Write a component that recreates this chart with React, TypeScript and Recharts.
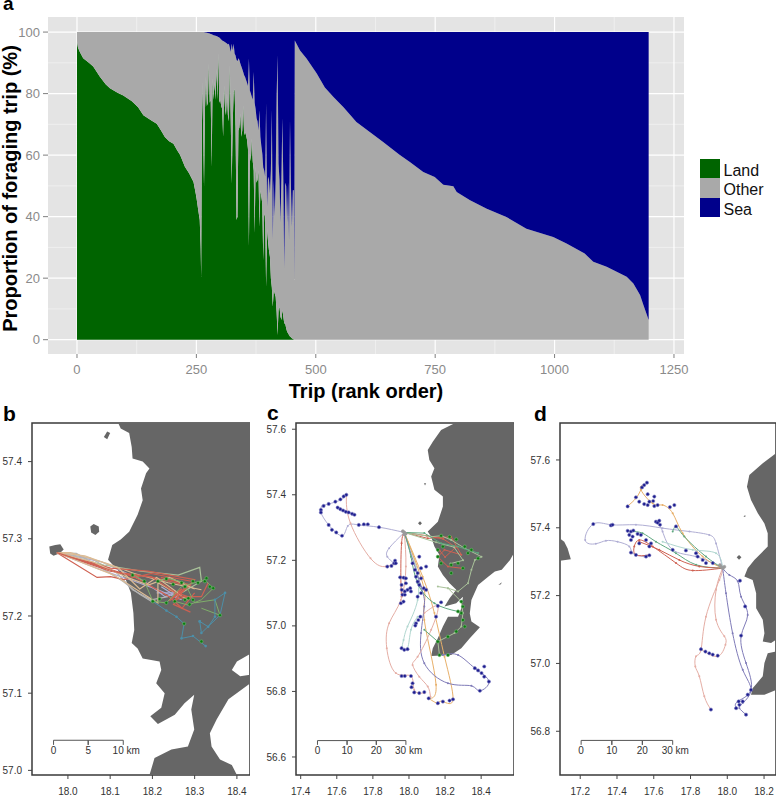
import {
  Area,
  CartesianGrid,
  ComposedChart,
  Legend,
  Polygon,
  ReferenceArea,
  Scatter,
  ScatterChart,
  XAxis,
  YAxis,
} from "recharts";

const FONT = "'Liberation Sans', Arial, sans-serif";

// panel a, foraging trips in rank order
const earlyRanks = [0, 2, 6, 13, 25, 34, 48, 60, 69, 85, 97, 115, 128, 139, 155, 167, 176, 184, 193, 202, 210, 216, 226, 235, 244, 250, 254, 257, 259, 260];
const earlyLand = [97, 95, 93.5, 91.5, 90, 88.8, 85.5, 83, 81.7, 80.3, 79.4, 77.5, 75.6, 73, 71.3, 70.2, 68, 65.9, 64.5, 63.7, 61.5, 60, 56.2, 54, 51.3, 46.4, 42, 39, 30, 20.4];

const spikeRanks = [
  262, 264, 266, 268, 270, 272, 274, 276, 278, 280,
  282, 284, 286, 288, 290, 292, 294, 296, 298, 300,
  302, 304, 306, 308, 310, 312, 314, 316, 318, 320,
  322, 324, 326, 328, 330, 332, 334, 336, 338, 340,
  342, 344, 346, 348, 350, 352, 354, 356, 358, 360,
  362, 364, 366, 368, 370, 372, 374, 376, 378, 380,
  382, 384, 386, 388, 390, 392, 394, 396, 398, 400,
  402, 404, 406, 408, 410, 412, 414, 416, 418, 420,
  422, 424, 426, 428, 430, 432, 434, 436, 438, 440,
  442, 444, 446, 448, 450, 452, 454, 455, 456,
];
const spikeLand = [
  83.8, 70, 49.7, 75, 85.4, 76, 77, 89.7, 77, 78,
  56.2, 84.9, 78, 83.8, 78, 88.1, 78, 93, 77, 78,
  76, 75, 65.9, 82.7, 75, 73, 80, 73, 71, 89.2,
  71, 50.8, 70, 80.5, 81.6, 69, 38.9, 40, 68, 69,
  73.5, 66, 68, 76.2, 66.5, 67.6, 66.5, 65, 62, 30.2,
  60.5, 58, 65.4, 58, 55, 34.5, 56.2, 51, 52, 55,
  36.7, 48.6, 46.5, 44.3, 25.9, 41, 40, 17.2, 36, 32,
  29, 27, 20, 17, 10.7, 16.2, 15, 14, 9, 1.5,
  9.7, 10.7, 7.5, 6.4, 9.7, 7.5, 5.3, 5.3, 3.7, 2.6,
  2.1, 1.5, 1, 0.8, 0.5, 0.3, 0.1, 0, 0,
];
const spikeSea = [
  0, 0, 0, 0.1, 0.1, 0.2, 0.3, 0.4, 0.5, 0.6,
  0.7, 0.9, 1, 1.1, 1.2, 1.3, 1.4, 1.6, 1.8, 2.1,
  2.4, 2.7, 2.9, 3.1, 3.3, 3.5, 3.7, 4, 3.8, 5,
  6.5, 3.8, 6, 3.8, 7, 7.6, 9, 9.5, 8.5, 9.1,
  10.2, 11.1, 12, 13, 14, 14.6, 15.6, 16.5, 17.5, 8.6,
  19, 20, 21, 22, 13, 23, 25, 28, 29, 32,
  25.4, 34, 37, 39.5, 44, 45, 47, 23.2, 56.8, 47,
  48, 52.5, 45, 25.4, 67.6, 48, 60, 48, 21, 7.6,
  42.7, 48, 62, 48, 28, 48, 76.8, 49, 50, 62,
  49, 67.6, 28.7, 50, 63.3, 51.4, 51.4, 80.6, 2.7,
];

const lateRanks = [467, 481, 502, 519, 537, 558, 585, 613, 641, 676, 697, 725, 749, 767, 788, 795, 823, 858, 899, 941, 997, 1025, 1063, 1081, 1109, 1151, 1165, 1179, 1186, 1197];
const lateSea = [6, 8.7, 13.5, 18, 21.1, 24.4, 29.2, 32.5, 35.7, 40, 42.2, 45.5, 47.1, 49.6, 50.1, 52, 54.7, 57.4, 60.1, 63.9, 66.6, 68.7, 72, 74.7, 76.3, 79.5, 81.7, 85.5, 88.7, 93.6];

const tripTicks = [0, 250, 500, 750, 1000, 1250];
const tripMinor = [125, 375, 625, 875, 1125];
const pctTicks = [0, 20, 40, 60, 80, 100];
const pctMinor = [10, 30, 50, 70, 90];

const allRanks = [...earlyRanks, ...spikeRanks, ...lateRanks];
const allLand = [...earlyLand, ...spikeLand, ...lateRanks.map(() => 0)];
const allSea = [...earlyRanks.map(() => 0), ...spikeSea, ...lateSea];
const tripRows = allRanks.map((trip, i) => ({
  trip,
  land: allLand[i],
  other: Math.max(0, 100 - allLand[i] - allSea[i]),
  sea: allSea[i],
}));

type LL = [number, number];

// panel b, coast and tracks (lon, lat)
const bCoast: LL[] = [
  [18.119, 57.45], [18.125, 57.443], [18.145, 57.437], [18.151, 57.419], [18.153, 57.404], [18.177, 57.4], [18.193, 57.391], [18.185, 57.385],
  [18.173, 57.365], [18.177, 57.35], [18.165, 57.331], [18.145, 57.309], [18.125, 57.299], [18.105, 57.292], [18.095, 57.273], [18.117, 57.26],
  [18.137, 57.247], [18.149, 57.23], [18.155, 57.204], [18.157, 57.182], [18.151, 57.165], [18.165, 57.158], [18.177, 57.145], [18.217, 57.141],
  [18.221, 57.13], [18.209, 57.113], [18.229, 57.1], [18.221, 57.081], [18.195, 57.07], [18.213, 57.06], [18.253, 57.072], [18.276, 57.087],
  [18.299, 57.098], [18.292, 57.079], [18.299, 57.053], [18.284, 57.031], [18.245, 57.027], [18.205, 57.016], [18.197, 57.001], [18.193, 56.994],
  [18.4, 56.994], [18.388, 57.007], [18.36, 57.014], [18.34, 57.031], [18.336, 57.048], [18.352, 57.066], [18.38, 57.092], [18.432, 57.113],
  [18.432, 57.124], [18.408, 57.122], [18.388, 57.13], [18.4, 57.141], [18.432, 57.151], [18.432, 57.45],
];
const bNorthIsle: LL[] = [[18.085, 57.432], [18.093, 57.439], [18.1, 57.437], [18.093, 57.429]];
const bMidIsle: LL[] = [[18.053, 57.316], [18.061, 57.319], [18.073, 57.316], [18.074, 57.309], [18.065, 57.305], [18.055, 57.308]];
const bColonyIsle: LL[] = [[17.956, 57.29], [17.97, 57.292], [17.982, 57.293], [17.99, 57.286], [17.98, 57.281], [17.966, 57.278], [17.958, 57.281]];

const bRed1: LL[] = [[17.974, 57.282], [18.069, 57.25], [18.101, 57.251], [18.133, 57.247], [18.197, 57.255], [18.292, 57.245]];
const bTan1: LL[] = [[17.974, 57.282], [18.006, 57.282], [18.093, 57.268], [18.157, 57.255], [18.237, 57.243], [18.316, 57.234]];
const bGray: LL[] = [[17.974, 57.282], [18.053, 57.275], [18.117, 57.255], [18.153, 57.234], [18.197, 57.221], [18.237, 57.225]];
const bSage: LL[] = [[17.974, 57.282], [18.085, 57.266], [18.173, 57.258], [18.261, 57.253], [18.312, 57.263], [18.316, 57.245], [18.253, 57.225]];
const bLilac: LL[] = [[17.974, 57.282], [18.077, 57.26], [18.157, 57.245], [18.213, 57.234], [18.269, 57.221], [18.221, 57.238]];
const bRed2: LL[] = [[17.974, 57.282], [18.101, 57.262], [18.189, 57.258], [18.3, 57.247], [18.253, 57.221], [18.284, 57.225], [18.237, 57.234]];
const bTan2: LL[] = [[17.974, 57.282], [18.109, 57.253], [18.189, 57.225], [18.213, 57.217], [18.213, 57.243], [18.284, 57.221]];
const bRed3: LL[] = [[17.974, 57.282], [18.125, 57.255], [18.197, 57.251], [18.269, 57.225], [18.316, 57.225], [18.332, 57.243]];
const bRed4: LL[] = [[17.974, 57.282], [18.09, 57.262], [18.16, 57.25], [18.24, 57.225], [18.27, 57.21], [18.3, 57.23]];
const bRed5: LL[] = [[17.974, 57.282], [18.1, 57.258], [18.2, 57.25], [18.28, 57.24], [18.25, 57.215], [18.29, 57.205]];
const bRed6: LL[] = [[18.22, 57.25], [18.29, 57.24], [18.24, 57.22], [18.27, 57.235], [18.25, 57.228]];
const bTan3: LL[] = [[17.974, 57.282], [18.04, 57.278], [18.12, 57.262], [18.17, 57.235], [18.21, 57.25], [18.26, 57.23]];
const bTan4: LL[] = [[17.974, 57.282], [18.06, 57.27], [18.14, 57.25], [18.19, 57.24], [18.24, 57.25], [18.3, 57.235]];
const bLilac2: LL[] = [[17.974, 57.282], [18.08, 57.27], [18.18, 57.245], [18.23, 57.225], [18.26, 57.23], [18.21, 57.23]];
const bGray2: LL[] = [[17.974, 57.282], [18.02, 57.281], [18.08, 57.262], [18.13, 57.245], [18.17, 57.228], [18.2, 57.218]];
const bGreen1: LL[] = [[18.157, 57.253], [18.181, 57.245], [18.201, 57.219], [18.233, 57.217], [18.269, 57.238], [18.324, 57.247], [18.344, 57.236], [18.316, 57.221], [18.285, 57.214], [18.253, 57.219]];
const bGreen2: LL[] = [[18.213, 57.245], [18.237, 57.249], [18.276, 57.243], [18.3, 57.217], [18.348, 57.221], [18.36, 57.201], [18.316, 57.21]];
const bTeal1: LL[] = [[18.201, 57.219], [18.233, 57.207], [18.257, 57.199], [18.275, 57.19], [18.269, 57.171], [18.296, 57.174], [18.326, 57.161]];
const bTeal2: LL[] = [[18.312, 57.193], [18.332, 57.186], [18.348, 57.199], [18.348, 57.221], [18.372, 57.23], [18.36, 57.201], [18.316, 57.178], [18.312, 57.193]];

const bGreenDots: LL[] = [
  [18.153, 57.253], [18.181, 57.245], [18.201, 57.219], [18.217, 57.222], [18.233, 57.217], [18.213, 57.245], [18.233, 57.248], [18.249, 57.241],
  [18.269, 57.243], [18.277, 57.238], [18.296, 57.245], [18.308, 57.243], [18.324, 57.245], [18.328, 57.249], [18.336, 57.238], [18.344, 57.236],
  [18.277, 57.221], [18.285, 57.223], [18.288, 57.215], [18.296, 57.221], [18.36, 57.201], [18.253, 57.219], [18.275, 57.19], [18.316, 57.167],
];

// panel c
const cCoast: LL[] = [
  [18.253, 57.618], [18.178, 57.598], [18.132, 57.562], [18.104, 57.537], [18.113, 57.506], [18.141, 57.481], [18.123, 57.456], [18.141, 57.415],
  [18.188, 57.395], [18.188, 57.364], [18.16, 57.318], [18.104, 57.288], [18.123, 57.272], [18.141, 57.242], [18.169, 57.216], [18.16, 57.181],
  [18.188, 57.155], [18.225, 57.13], [18.262, 57.11], [18.225, 57.084], [18.197, 57.059], [18.262, 57.069], [18.299, 57.089], [18.29, 57.054],
  [18.272, 57.028], [18.216, 57.028], [18.188, 56.998], [18.16, 56.962], [18.132, 56.932], [18.123, 56.908], [18.234, 56.911], [18.29, 56.932],
  [18.337, 56.962], [18.393, 56.996], [18.346, 57.013], [18.337, 57.038], [18.346, 57.079], [18.383, 57.125], [18.439, 57.15], [18.476, 57.166],
  [18.514, 57.171], [18.56, 57.201], [18.582, 57.222], [18.582, 57.618],
];
const cIsle: LL[] = [[18.05, 57.313], [18.061, 57.319], [18.072, 57.313], [18.061, 57.307]];
const cIsleNorth: LL[] = [[18.083, 57.435], [18.095, 57.435], [18.089, 57.428]];
const cIsleEast: LL[] = [[18.495, 57.125], [18.514, 57.133], [18.51, 57.127]];

const cLilac1: LL[] = [[17.974, 57.285], [17.834, 57.301], [17.722, 57.308], [17.661, 57.305], [17.629, 57.275], [17.555, 57.308], [17.512, 57.346], [17.517, 57.364], [17.555, 57.372], [17.62, 57.384], [17.653, 57.4]];
const cSalmon1: LL[] = [[17.653, 57.4], [17.676, 57.313], [17.787, 57.206], [17.871, 57.181], [17.927, 57.191]];
const cBlue: LL[] = [[17.601, 57.362], [17.698, 57.339]];
const cLilac2: LL[] = [[17.974, 57.285], [17.89, 57.237], [17.88, 57.211], [17.918, 57.191]];
const cRed1: LL[] = [[17.974, 57.285], [17.959, 57.252], [17.955, 57.15], [17.959, 57.089]];
const cGreen1: LL[] = [[17.974, 57.285], [18.011, 57.211], [18.048, 57.13], [18.141, 57.069], [18.272, 57.044]];
const cPink: LL[] = [[17.974, 57.285], [17.983, 57.181], [17.955, 57.079], [17.89, 57.008], [17.877, 56.932], [17.927, 56.856], [18.011, 56.847], [18.029, 56.805], [18.085, 56.795]];
const cTeal: LL[] = [[17.974, 57.285], [18.039, 57.181], [18.048, 57.079], [17.992, 56.998], [17.97, 56.957], [17.964, 56.932], [17.992, 56.932], [18.011, 56.988], [18.048, 57.028]];
const cOrange1: LL[] = [[17.974, 57.285], [18.085, 57.11], [18.085, 57.018], [18.15, 56.82], [18.113, 56.779], [18.16, 56.762]];
const cOrange2: LL[] = [[17.974, 57.285], [18.076, 57.15], [18.141, 57.039], [18.197, 56.906], [18.244, 56.776], [18.188, 56.769], [18.16, 56.762]];
const cPurple: LL[] = [[17.974, 57.285], [18.067, 57.12], [18.085, 57.059], [18.067, 56.978], [18.085, 56.886], [18.216, 56.825], [18.346, 56.817], [18.393, 56.802], [18.443, 56.83], [18.365, 56.871], [18.272, 56.911], [18.188, 56.911]];
const cSalmon2: LL[] = [[18.085, 57.039], [18.16, 57.059], [18.123, 56.988], [18.048, 56.906], [18.02, 56.881], [18.057, 56.845], [18.104, 56.815], [18.119, 56.784]];
const cLandGreen1: LL[] = [[17.974, 57.285], [18.123, 57.272], [18.178, 57.275], [18.234, 57.262], [18.309, 57.237], [18.402, 57.211], [18.365, 57.201], [18.346, 57.171], [18.327, 57.13], [18.272, 57.105], [18.216, 57.115], [18.16, 57.12]];
const cLandRed: LL[] = [[17.974, 57.285], [18.104, 57.267], [18.234, 57.272], [18.29, 57.217], [18.197, 57.232], [18.16, 57.211], [18.216, 57.181], [18.29, 57.176]];
const cLandRed2: LL[] = [[17.974, 57.285], [18.1, 57.275], [18.19, 57.265], [18.26, 57.24], [18.2, 57.21], [18.17, 57.23]];
const cLandSage: LL[] = [[17.974, 57.285], [18.15, 57.255], [18.25, 57.24], [18.3, 57.2], [18.23, 57.19]];
const cLandGreen2: LL[] = [[18.216, 57.115], [18.29, 57.074], [18.299, 57.039], [18.29, 56.998], [18.253, 56.978], [18.16, 56.952], [18.169, 56.911]];
const cLandGreen3: LL[] = [[17.974, 57.285], [18.085, 57.283], [18.178, 57.252], [18.272, 57.242], [18.383, 57.222]];
const cLandGreen4: LL[] = [[18.085, 56.988], [18.16, 56.952]];
const cColony: LL[] = [[17.966, 57.289], [17.974, 57.285], [17.982, 57.281], [17.974, 57.279]];

const cGreenDots: LL[] = [
  [18.178, 57.275], [18.225, 57.272], [18.262, 57.264], [18.309, 57.242], [18.346, 57.232], [18.383, 57.206], [18.16, 57.232], [18.188, 57.242],
  [18.178, 57.191], [18.234, 57.186], [18.272, 57.191], [18.299, 57.176], [18.234, 57.161], [18.29, 57.074], [18.299, 57.059], [18.29, 57.039],
  [18.299, 57.018], [18.309, 56.998], [18.262, 56.983], [18.216, 56.967], [18.16, 56.952], [18.169, 56.911], [18.216, 56.911], [18.272, 57.044],
  [18.16, 57.211], [18.327, 57.222],
];
const cSeaDots: LL[] = [
  [17.653, 57.4], [17.638, 57.395], [17.62, 57.386], [17.592, 57.379], [17.555, 57.372], [17.527, 57.366], [17.512, 57.354], [17.512, 57.346],
  [17.555, 57.308], [17.573, 57.293], [17.597, 57.285], [17.629, 57.275], [17.605, 57.361], [17.62, 57.356], [17.635, 57.352], [17.65, 57.348],
  [17.666, 57.346], [17.685, 57.342], [17.698, 57.339], [17.722, 57.308], [17.75, 57.31], [17.772, 57.31], [17.834, 57.301], [17.88, 57.181],
  [17.903, 57.183], [17.918, 57.191], [17.923, 57.199], [17.951, 57.148], [17.97, 57.147], [17.983, 57.145], [17.959, 57.125], [17.983, 57.13],
  [17.96, 57.11], [17.977, 57.105], [17.992, 57.11], [18.007, 57.115], [18.011, 57.105], [17.964, 57.095], [17.977, 57.095], [17.955, 57.069],
  [17.97, 57.074], [18.02, 57.191], [18.057, 57.211], [18.033, 57.171], [18.048, 57.161], [18.067, 57.176], [18.095, 57.181], [18.039, 57.15],
  [18.067, 57.145], [18.048, 57.135], [18.057, 57.125], [18.082, 57.115], [18.067, 57.1], [18.048, 57.089], [18.095, 57.11], [18.063, 57.028],
  [18.052, 57.018], [18.039, 57.008], [18.035, 57.001], [18.178, 57.072], [18.16, 57.061], [18.15, 57.028], [17.959, 56.932], [17.974, 56.927],
  [17.992, 56.929], [17.959, 56.847], [17.977, 56.847], [18.011, 56.847], [18.02, 56.825], [18.014, 56.813], [18.029, 56.797], [18.057, 56.795],
  [18.085, 56.798], [18.109, 56.779], [18.16, 56.764], [18.188, 56.769], [18.225, 56.772], [18.244, 56.776], [18.365, 56.871], [18.383, 56.864],
  [18.402, 56.856], [18.417, 56.876], [18.417, 56.845], [18.443, 56.83], [18.393, 56.802], [17.927, 57.191],
];

// panel d
const dCoast: LL[] = [
  [18.265, 57.62], [18.193, 57.59], [18.12, 57.556], [18.107, 57.521], [18.129, 57.482], [18.166, 57.443], [18.202, 57.413], [18.22, 57.384],
  [18.22, 57.345], [18.184, 57.325], [18.147, 57.305], [18.111, 57.281], [18.093, 57.256], [18.138, 57.246], [18.157, 57.207], [18.157, 57.163],
  [18.193, 57.129], [18.202, 57.089], [18.193, 57.065], [18.238, 57.06], [18.265, 57.07],
];
const dSouthLand: LL[] = [[18.265, 57.035], [18.22, 57.03], [18.202, 57.001], [18.193, 56.962], [18.138, 56.927], [18.129, 56.908], [18.202, 56.908], [18.265, 56.922]];
const dWestLand: LL[] = [[17.089, 57.369], [17.113, 57.359], [17.131, 57.34], [17.149, 57.307], [17.089, 57.303]];
const dIsle: LL[] = [[18.051, 57.313], [18.064, 57.32], [18.077, 57.313], [18.064, 57.306]];
const dIsleNorth: LL[] = [[18.088, 57.433], [18.098, 57.438], [18.098, 57.432]];

const dLilac1: LL[] = [[17.975, 57.281], [17.939, 57.354], [17.902, 57.379], [17.794, 57.389], [17.648, 57.399], [17.503, 57.409], [17.367, 57.409], [17.271, 57.411], [17.227, 57.364], [17.285, 57.353], [17.34, 57.362], [17.403, 57.359], [17.467, 57.345], [17.485, 57.325], [17.548, 57.315]];
const dLilac2: LL[] = [[17.975, 57.281], [17.83, 57.315], [17.703, 57.335], [17.648, 57.389], [17.621, 57.418]];
const dOrange1: LL[] = [[17.975, 57.281], [17.866, 57.315], [17.757, 57.384], [17.703, 57.443], [17.648, 57.467], [17.594, 57.472], [17.53, 57.512], [17.548, 57.526]];
const dOrange2: LL[] = [[17.53, 57.512], [17.503, 57.487], [17.458, 57.464]];
const dGreen1: LL[] = [[17.975, 57.281], [17.884, 57.315], [17.766, 57.374], [17.721, 57.404], [17.703, 57.389]];
const dRed1: LL[] = [[17.975, 57.281], [17.812, 57.274], [17.721, 57.296], [17.594, 57.345], [17.521, 57.364], [17.494, 57.345], [17.503, 57.32], [17.576, 57.32]];
const dGreen2: LL[] = [[17.975, 57.281], [17.83, 57.291], [17.721, 57.325], [17.612, 57.359], [17.539, 57.384], [17.476, 57.389]];
const dRed2: LL[] = [[17.975, 57.281], [17.848, 57.286], [17.739, 57.305], [17.63, 57.335], [17.521, 57.359]];
const dTeal: LL[] = [[17.975, 57.281], [17.939, 57.325], [17.812, 57.335], [17.648, 57.359]];
const dSalmon1: LL[] = [[17.975, 57.281], [17.957, 57.246], [17.884, 57.138], [17.857, 57.04], [17.83, 57.021], [17.826, 56.991], [17.848, 56.962], [17.875, 56.903], [17.911, 56.864]];
const dSalmon2: LL[] = [[17.975, 57.281], [17.939, 57.217], [17.939, 57.129], [17.984, 57.08], [17.99, 57.055], [17.948, 57.021], [17.857, 57.042]];
const dPurple1: LL[] = [[17.975, 57.281], [17.993, 57.207], [18.029, 57.089], [18.084, 56.981], [18.129, 56.922], [18.084, 56.883], [18.066, 56.868], [18.102, 56.849]];
const dPurple2: LL[] = [[17.975, 57.281], [18.011, 57.261], [18.057, 57.242], [18.075, 57.197], [18.111, 57.143], [18.075, 57.08], [18.102, 57.001], [18.129, 56.922], [18.057, 56.888], [18.048, 56.868]];
const dColony: LL[] = [[17.966, 57.285], [17.975, 57.281], [17.984, 57.285], [17.96, 57.29]];

const dSeaDots: LL[] = [
  [17.536, 57.519], [17.548, 57.526], [17.563, 57.533], [17.503, 57.49], [17.458, 57.463], [17.567, 57.499], [17.521, 57.477], [17.548, 57.47],
  [17.567, 57.467], [17.576, 57.477], [17.597, 57.479], [17.603, 57.492], [17.621, 57.467], [17.603, 57.464], [17.688, 57.461], [17.712, 57.467],
  [17.721, 57.404], [17.612, 57.418], [17.621, 57.415], [17.634, 57.409], [17.63, 57.421], [17.271, 57.411], [17.367, 57.407], [17.376, 57.409],
  [17.458, 57.391], [17.476, 57.389], [17.489, 57.392], [17.467, 57.379], [17.485, 57.374], [17.476, 57.364], [17.512, 57.382], [17.53, 57.379],
  [17.558, 57.364], [17.585, 57.354], [17.576, 57.345], [17.521, 57.354], [17.476, 57.327], [17.503, 57.32], [17.558, 57.315], [17.576, 57.319],
  [17.703, 57.335], [17.775, 57.333], [17.83, 57.325], [17.839, 57.315], [17.866, 57.305], [17.884, 57.296], [17.921, 57.296], [17.857, 57.042],
  [17.881, 57.035], [17.902, 57.03], [17.921, 57.026], [17.948, 57.023], [17.911, 56.864], [18.129, 56.922], [18.111, 56.908], [18.084, 56.888],
  [18.062, 56.888], [18.048, 56.868], [18.066, 56.878], [18.102, 56.849], [18.069, 57.244], [18.097, 57.168], [18.075, 57.082],
];

// scale bars
const bScaleBar: LL[] = [[17.966, 57.033], [17.966, 57.039], [18.048, 57.039], [18.048, 57.033], [18.048, 57.039], [18.131, 57.039], [18.131, 57.033]];
const bScaleText = [{ lon: 17.966, lat: 57.021, label: "0" }, { lon: 18.048, lat: 57.021, label: "5" }, { lon: 18.138, lat: 57.021, label: "10 km" }];
const cScaleBar: LL[] = [[17.493, 56.637], [17.493, 56.65], [17.657, 56.65], [17.657, 56.637], [17.657, 56.65], [17.819, 56.65], [17.819, 56.637], [17.819, 56.65], [17.983, 56.65], [17.983, 56.637]];
const cScaleText = [{ lon: 17.493, lat: 56.608, label: "0" }, { lon: 17.657, lat: 56.608, label: "10" }, { lon: 17.819, lat: 56.608, label: "20" }, { lon: 17.998, lat: 56.608, label: "30 km" }];
const dScaleBar: LL[] = [[17.205, 56.76], [17.205, 56.773], [17.372, 56.773], [17.372, 56.76], [17.372, 56.773], [17.538, 56.773], [17.538, 56.76], [17.538, 56.773], [17.703, 56.773], [17.703, 56.76]];
const dScaleText = [{ lon: 17.205, lat: 56.733, label: "0" }, { lon: 17.372, lat: 56.733, label: "10" }, { lon: 17.538, lat: 56.733, label: "20" }, { lon: 17.717, lat: 56.733, label: "30 km" }];

const SALMON = "#e5aea5";
const RED = "#cf6152";
const ORANGE = "#e8b06a";
const TAN = "#dcbb94";
const LILAC = "#b0aed4";
const PURPLE = "#7f7bb8";
const TEAL = "#b0d6cf";
const GREEN = "#5fa880";
const SAGE = "#a9c29a";
const GRAY = "#b5b5b5";
const STEEL = "#4d8fa8";

const toPoints = (rows: LL[]) => rows.map(([lon, lat]) => ({ lon, lat }));

const LandShape = ({ rows }: { rows: LL[] }) => (
  <Scatter
    data={toPoints(rows)}
    isAnimationActive={false}
    shape={() => <g />}
    line={(p: any) => <Polygon points={p.points} fill="#666666" stroke="none" />}
  />
);

const Track = ({ rows, color, r = 1, smooth = true, width = 1 }: { rows: LL[]; color: string; r?: number; smooth?: boolean; width?: number }) => (
  <Scatter
    data={toPoints(rows)}
    isAnimationActive={false}
    line={{ stroke: color, strokeWidth: width }}
    lineJointType={smooth ? "natural" : "linear"}
    shape={(p: any) => <circle cx={p.cx} cy={p.cy} r={r} fill={color} />}
  />
);

const Dots = ({ rows, color, halo, r = 1.6 }: { rows: LL[]; color: string; halo: string; r?: number }) => (
  <Scatter
    data={toPoints(rows)}
    isAnimationActive={false}
    shape={(p: any) => <circle cx={p.cx} cy={p.cy} r={r} fill={color} stroke={halo} strokeWidth={0.6} />}
  />
);

const ScaleBar = ({ rows, labels }: { rows: LL[]; labels: { lon: number; lat: number; label: string }[] }) => (
  <>
    <Scatter data={toPoints(rows)} isAnimationActive={false} line={{ stroke: "#555", strokeWidth: 1 }} shape={() => <g />} />
    <Scatter
      data={labels}
      isAnimationActive={false}
      shape={(p: any) => (
        <text x={p.cx} y={p.cy} textAnchor="middle" fontSize={10} fontFamily={FONT} fill="#333">
          {p.payload?.label ?? p.label}
        </text>
      )}
    />
  </>
);

const MapFrame = ({ left, width, axisWidth, lonDomain, latDomain, lonTicks, latTicks, children }: any) => (
  <div style={{ position: "absolute", left, top: 415 }}>
    <ScatterChart width={width} height={383} margin={{ top: 8, right: 0, bottom: 0, left: 0 }}>
      <XAxis
        type="number"
        dataKey="lon"
        domain={lonDomain}
        ticks={lonTicks}
        allowDataOverflow
        height={23}
        axisLine={false}
        tickSize={4}
        tickMargin={9}
        tickLine={{ stroke: "#444" }}
        tick={{ fontSize: 10, fontFamily: FONT, fill: "#333" }}
        tickFormatter={(v: number) => v.toFixed(1)}
      />
      <YAxis
        type="number"
        dataKey="lat"
        domain={latDomain}
        ticks={latTicks}
        allowDataOverflow
        width={axisWidth}
        axisLine={false}
        tickSize={4}
        tickMargin={6}
        tickLine={{ stroke: "#444" }}
        tick={{ fontSize: 10, fontFamily: FONT, fill: "#333" }}
        tickFormatter={(v: number) => v.toFixed(1)}
      />
      {children}
      <ReferenceArea
        x1={lonDomain[0]}
        x2={lonDomain[1]}
        y1={latDomain[0]}
        y2={latDomain[1]}
        fill="none"
        stroke="#3a3a3a"
        strokeWidth={1.5}
      />
    </ScatterChart>
  </div>
);

const TripLegend = ({ payload }: any) => (
  <div style={{ fontFamily: FONT, fontSize: 16, color: "#111" }}>
    {(payload ?? []).map((item: any) => (
      <div key={item.value} style={{ display: "flex", alignItems: "flex-start", height: 19.4, lineHeight: "24px" }}>
        <span style={{ width: 19.5, height: 19.4, background: item.color, display: "inline-block", marginRight: 4 }} />
        {item.value}
      </div>
    ))}
  </div>
);

const PanelLetter = ({ text, x, y, size = 21, lh = 21 }: { text: string; x: number; y: number; size?: number; lh?: number }) => (
  <div style={{ position: "absolute", left: x, top: y, fontFamily: FONT, fontWeight: 700, fontSize: size, lineHeight: `${lh}px`, color: "#000" }}>
    {text}
  </div>
);

export default function App() {
  return (
    <div style={{ position: "absolute", left: 0, top: 0, width: 776, height: 798, background: "#fff", overflow: "hidden" }}>
      <div style={{ position: "absolute", left: 0, top: 0 }}>
        <ComposedChart width={776} height={405} data={tripRows} margin={{ top: 17, right: 92, bottom: 0, left: 0 }}>
          <CartesianGrid fill="#e4e4e4" stroke="#f1f1f1" strokeWidth={0.8} verticalValues={tripMinor} horizontalValues={pctMinor} />
          <CartesianGrid stroke="#ffffff" strokeWidth={1.2} verticalValues={tripTicks} horizontalValues={pctTicks} />
          <XAxis
            type="number"
            dataKey="trip"
            domain={[-60.7, 1271]}
            ticks={tripTicks}
            allowDataOverflow
            height={51}
            axisLine={false}
            tickSize={4}
            tickMargin={7}
            tickLine={{ stroke: "#7f7f7f" }}
            tick={{ fontSize: 13, fontFamily: FONT, fill: "#8a8a8a" }}
            label={{ value: "Trip (rank order)", position: "insideBottom", offset: 7, style: { fontSize: 20, fontWeight: 700, fontFamily: FONT, fill: "#000" } }}
          />
          <YAxis
            type="number"
            domain={[-4.65, 104.9]}
            ticks={pctTicks}
            allowDataOverflow
            width={48}
            axisLine={false}
            tickSize={5}
            tickMargin={3}
            tickLine={{ stroke: "#7f7f7f" }}
            tick={{ fontSize: 13, fontFamily: FONT, fill: "#8a8a8a" }}
            label={{ value: "Proportion of foraging trip (%)", angle: -90, position: "insideLeft", offset: 0, dx: 10, dy: 3, style: { fontSize: 20, fontWeight: 700, fontFamily: FONT, fill: "#000", textAnchor: "middle" } }}
          />
          <Area dataKey="land" name="Land" stackId="trip" type="linear" fill="#006400" fillOpacity={1} stroke="none" isAnimationActive={false} />
          <Area dataKey="other" name="Other" stackId="trip" type="linear" fill="#a9a9a9" fillOpacity={1} stroke="none" isAnimationActive={false} />
          <Area dataKey="sea" name="Sea" stackId="trip" type="linear" fill="#00008b" fillOpacity={1} stroke="none" isAnimationActive={false} />
          <Legend
            layout="vertical"
            align="center"
            verticalAlign="middle"
            content={<TripLegend />}
            wrapperStyle={{ left: 700, top: 159, width: 70 }}
          />
        </ComposedChart>
      </div>

      <MapFrame left={0} width={250} axisWidth={32} lonDomain={[17.915, 18.431]} latDomain={[56.994, 57.45]} lonTicks={[18.0, 18.1, 18.2, 18.3, 18.4]} latTicks={[57.0, 57.1, 57.2, 57.3, 57.4]}>
        <LandShape rows={bCoast} />
        <LandShape rows={bNorthIsle} />
        <LandShape rows={bMidIsle} />
        <LandShape rows={bColonyIsle} />
        <Track rows={bLilac} color={LILAC} r={0} smooth={false} width={1.2} />
        <Track rows={bLilac2} color={LILAC} r={0} smooth={false} width={1.2} />
        <Track rows={bGray} color={GRAY} r={0} smooth={false} width={1.2} />
        <Track rows={bGray2} color={GRAY} r={0} smooth={false} width={1.2} />
        <Track rows={bTan1} color={TAN} r={0} smooth={false} width={1.2} />
        <Track rows={bSage} color={SAGE} r={0} smooth={false} width={1.2} />
        <Track rows={bRed1} color={RED} r={0} smooth={false} width={1.2} />
        <Track rows={bRed2} color={RED} r={0} smooth={false} width={1.2} />
        <Track rows={bRed4} color={RED} r={0} smooth={false} width={1.2} />
        <Track rows={bRed5} color={RED} r={0} smooth={false} width={1.2} />
        <Track rows={bRed6} color={RED} r={0} smooth={false} width={1.5} />
        <Track rows={bTan2} color={TAN} r={0} smooth={false} width={1.2} />
        <Track rows={bTan3} color={TAN} r={0} smooth={false} width={1.2} />
        <Track rows={bTan4} color={TAN} r={0} smooth={false} width={1.2} />
        <Track rows={bRed3} color={RED} r={0} smooth={false} width={1.2} />
        <Track rows={bGreen1} color="#7fae6a" r={0} smooth={false} />
        <Track rows={bGreen2} color="#7fae6a" r={0} smooth={false} />
        <Track rows={bTeal1} color={STEEL} r={1.3} smooth={false} />
        <Track rows={bTeal2} color={STEEL} r={1.3} smooth={false} />
        <Dots rows={bGreenDots} color="#0d7a12" halo="#6fb86f" />
        <ScaleBar rows={bScaleBar} labels={bScaleText} />
      </MapFrame>

      <MapFrame left={262} width={252} axisWidth={34} lonDomain={[17.374, 18.582]} latDomain={[56.545, 57.619]} lonTicks={[17.4, 17.6, 17.8, 18.0, 18.2, 18.4]} latTicks={[56.6, 56.8, 57.0, 57.2, 57.4, 57.6]}>
        <LandShape rows={cCoast} />
        <LandShape rows={cIsle} />
        <LandShape rows={cIsleNorth} />
        <LandShape rows={cIsleEast} />
        <Track rows={cLilac1} color={LILAC} />
        <Track rows={cSalmon1} color={SALMON} />
        <Track rows={cBlue} color={PURPLE} />
        <Track rows={cLilac2} color={LILAC} />
        <Track rows={cRed1} color={RED} />
        <Track rows={cPink} color={SALMON} />
        <Track rows={cTeal} color={TEAL} />
        <Track rows={cOrange1} color={ORANGE} />
        <Track rows={cOrange2} color={ORANGE} />
        <Track rows={cPurple} color={PURPLE} />
        <Track rows={cSalmon2} color={SALMON} />
        <Track rows={cGreen1} color={GREEN} />
        <Track rows={cLandRed} color={RED} smooth={false} />
        <Track rows={cLandRed2} color={RED} smooth={false} />
        <Track rows={cLandSage} color={SAGE} smooth={false} />
        <Track rows={cLandGreen1} color={SAGE} smooth={false} />
        <Track rows={cLandGreen2} color={SAGE} smooth={false} />
        <Track rows={cLandGreen3} color={GREEN} smooth={false} />
        <Track rows={cLandGreen4} color={GREEN} smooth={false} />
        <Dots rows={cGreenDots} color="#0d7a12" halo="#6fb86f" />
        <Dots rows={cSeaDots} color="#1c1c8e" halo="#7a7ac0" />
        <Dots rows={cColony} color="#9a9a9a" halo="#9a9a9a" r={1.5} />
        <ScaleBar rows={cScaleBar} labels={cScaleText} />
      </MapFrame>

      <MapFrame left={530} width={246} axisWidth={30} lonDomain={[17.09, 18.265]} latDomain={[56.671, 57.709]} lonTicks={[17.2, 17.4, 17.6, 17.8, 18.0, 18.2]} latTicks={[56.8, 57.0, 57.2, 57.4, 57.6]}>
        <LandShape rows={dCoast} />
        <LandShape rows={dSouthLand} />
        <LandShape rows={dWestLand} />
        <LandShape rows={dIsle} />
        <LandShape rows={dIsleNorth} />
        <Track rows={dLilac1} color={LILAC} />
        <Track rows={dLilac2} color={LILAC} />
        <Track rows={dOrange1} color={ORANGE} />
        <Track rows={dOrange2} color={ORANGE} />
        <Track rows={dGreen1} color={GREEN} />
        <Track rows={dRed1} color={RED} />
        <Track rows={dGreen2} color={GREEN} />
        <Track rows={dRed2} color={RED} />
        <Track rows={dTeal} color={TEAL} />
        <Track rows={dSalmon1} color={SALMON} />
        <Track rows={dSalmon2} color={SALMON} />
        <Track rows={dPurple1} color={PURPLE} />
        <Track rows={dPurple2} color={PURPLE} />
        <Dots rows={dSeaDots} color="#1c1c8e" halo="#7a7ac0" />
        <Dots rows={dColony} color="#9a9a9a" halo="#9a9a9a" r={1.5} />
        <ScaleBar rows={dScaleBar} labels={dScaleText} />
      </MapFrame>

      <PanelLetter text="a" x={3} y={0} size={19} lh={8} />
      <PanelLetter text="b" x={3} y={403} />
      <PanelLetter text="c" x={267} y={402} />
      <PanelLetter text="d" x={534} y={403} />
    </div>
  );
}
